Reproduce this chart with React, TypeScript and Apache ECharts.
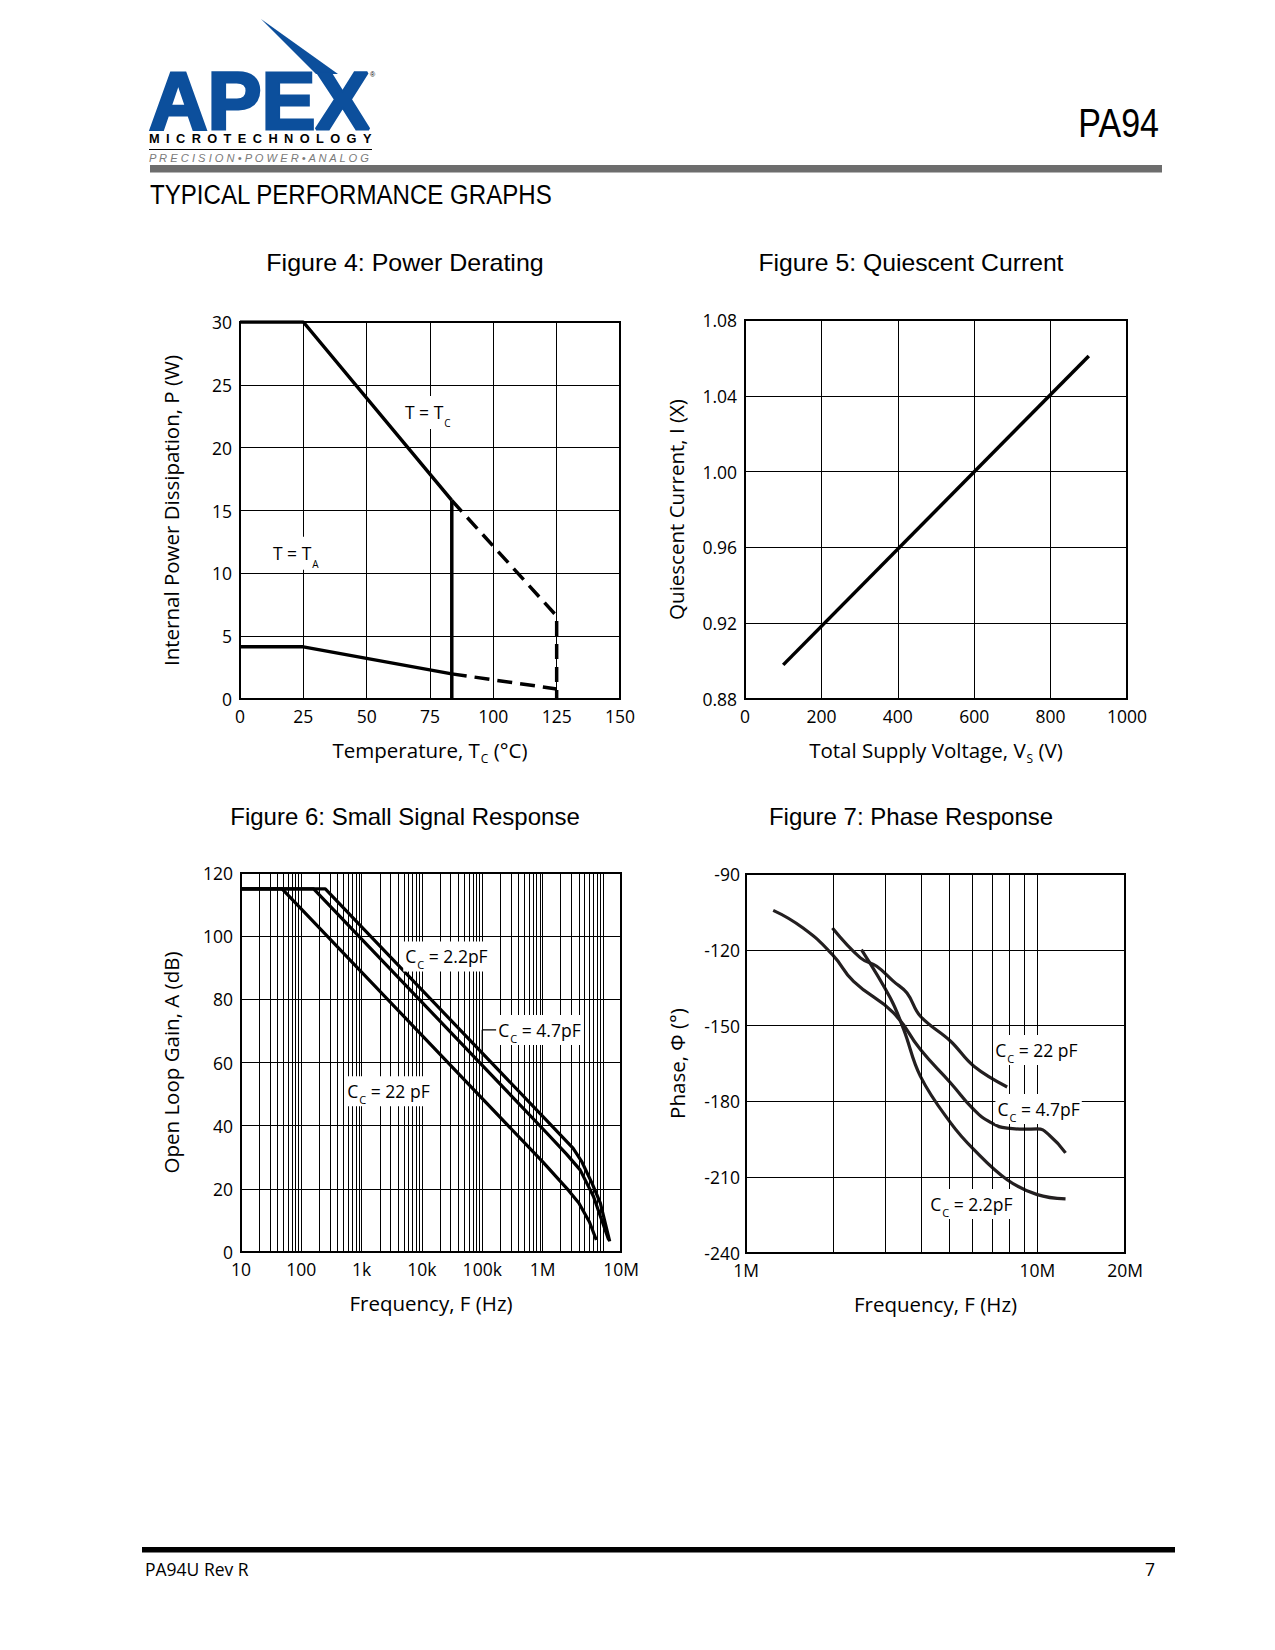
import React, { useEffect, useRef } from "react";
import * as echarts from "echarts";

const FONT = '"Open Sans", "Noto Sans", sans-serif';
const HEAD_FONT = '"Liberation Sans", Arial, sans-serif';
const INK = "#000000";
const CURVE7 = "#231f20";
const BLUE = "#0c4f9c";

// ---------- Figure 4: Power Derating ----------
const tcSolidX = [0, 25, 83.6];
const tcSolidY = [30, 30, 15.8];
const tcDashX = [83.6, 125, 125];
const tcDashY = [15.8, 6.6, 0];
const limitX = [83.6, 83.6];
const limitY = [0, 15.8];
const taSolidX = [0, 25, 83.6];
const taSolidY = [4.15, 4.15, 2.0];
const taDashX = [83.6, 125];
const taDashY = [2.0, 0.8];
const powerLabelX = [64.3, 12.2];
const powerLabelY = [22.8, 11.6];
const powerLabelText = ["T = T{s|C}", "T = T{s|A}"];

// ---------- Figure 5: Quiescent Current ----------
const supplyV = [100, 900];
const quiescentI = [0.898, 1.061];

// ---------- Figure 6: Small Signal Response ----------
const gainF22 = [10, 48, 1e6, 2.7e6, 4e6, 6e6, 7.8e6];
const gainA22 = [115, 115, 28.6, 19.5, 15.5, 9.5, 3.8];
const gainF47 = [10, 160, 1e6, 2.5e6, 4.2e6, 7e6, 9.1e6, 1.25e7];
const gainA47 = [115, 115, 39.1, 31, 26, 17.6, 11.3, 3.8];
const gainF2p2 = [10, 250, 1e6, 3.2e6, 4.5e6, 6.6e6, 9.1e6, 1.3e7];
const gainA2p2 = [115, 115, 43, 32.9, 28.5, 21.8, 15.5, 3.4];
const leaderF = [1e5, 1e5, 1.72e5];
const leaderA = [59.5, 70.3, 70.3];
const gainLabelF = [4.9e3, 1.71e5, 537];
const gainLabelA = [93.6, 70.3, 50.9];
const gainLabelText = ["C{s|C} = 2.2pF", "C{s|C} = 4.7pF", "C{s|C} = 22 pF"];
const gainTickExp = [1, 2, 3, 4, 5, 6, 7, 7.3];
const gainTickText = ["10", "100", "1k", "10k", "100k", "1M", "", "10M"];
const gainDecades = [1, 2, 3, 4, 5, 6];
const minorMultipliers = [2, 3, 4, 5, 6, 7, 8, 9];

// ---------- Figure 7: Phase Response ----------
const phaseF47 = [1.24e6, 1.57e6, 1.98e6, 2.34e6, 3.21e6, 3.97e6, 5.04e6, 6.06e6, 6.91e6, 7.88e6, 9.0e6, 1.0e7, 1.1e7, 1.25e7];
const phaseP47 = [-104.4, -111.4, -121.9, -132.5, -145.0, -159.5, -172.7, -183.3, -188.3, -190.6, -191.0, -190.9, -193.4, -200.4];
const phaseF22 = [1.98e6, 2.47e6, 2.81e6, 3.21e6, 3.57e6, 3.97e6, 5.04e6, 6.06e6, 7.88e6];
const phaseP22 = [-111.4, -123.2, -126.5, -132.5, -137.1, -146.3, -156.2, -166.1, -174.3];
const phaseF2p2 = [2.49e6, 3.13e6, 3.48e6, 3.97e6, 5.04e6, 6.06e6, 7.88e6, 1.0e7, 1.25e7];
const phaseP2p2 = [-119.9, -139.1, -151.6, -170.1, -188.5, -199.1, -211.0, -216.9, -218.6];
const phaseLabelF = [7.06e6, 7.18e6, 4.22e6];
const phaseLabelP = [-159.7, -183.0, -220.6];
const phaseLabelText = ["C{s|C} = 22 pF", "C{s|C} = 4.7pF", "C{s|C} = 2.2pF"];
const phaseTickExp = [6, 7, 7.3];
const phaseTickText = ["1M", "10M", "20M"];
const phaseDecades = [6];

// ---------- Page texts ----------
const figureTitles = [
  "Figure 4: Power Derating",
  "Figure 5: Quiescent Current",
  "Figure 6: Small Signal Response",
  "Figure 7: Phase Response",
];
const axisNames = {
  x4: "Temperature, T{s|C} (°C)",
  y4: "Internal Power Dissipation, P (W)",
  x5: "Total Supply Voltage, V{s|S} (V)",
  y5: "Quiescent Current, I (X)",
  x6: "Frequency, F (Hz)",
  y6: "Open Loop Gain, A (dB)",
  x7: "Frequency, F (Hz)",
  y7: "Phase, Φ (°)",
};

const zip = (xs: number[], ys: number[]) => xs.map((x, i) => [x, ys[i]]);

function buildOption() {
  const sub = (size: number, drop: number) => ({
    fontSize: size,
    fontFamily: FONT,
    color: INK,
    padding: [drop, 0, 0, 1],
  });
  const nameStyle = () => ({
    fontSize: 20.5,
    fontFamily: FONT,
    color: INK,
    rich: { s: sub(12, 16) },
  });
  const tick = (margin: number, formatter?: any) => ({
    color: INK,
    fontFamily: FONT,
    fontSize: 17.5,
    margin,
    showMinLabel: true,
    showMaxLabel: true,
    ...(formatter ? { formatter } : {}),
  });
  const base = {
    axisLine: { show: false },
    axisTick: { show: false },
    splitLine: { show: true, lineStyle: { color: INK, width: 1 } },
    nameLocation: "middle",
  };
  const logFmt = (exps: number[], texts: string[]) => (v: number) => {
    const k = Math.round(Math.log10(v) * 100) / 100;
    const i = exps.indexOf(k);
    return i >= 0 ? texts[i] : "";
  };

  const grids = [
    { left: 240, top: 322, width: 380, height: 377 },
    { left: 745, top: 320, width: 382, height: 379 },
    { left: 241, top: 873, width: 380, height: 379 },
    { left: 746, top: 874, width: 379, height: 379 },
  ].map((g) => ({ ...g, show: true, borderColor: INK, borderWidth: 2, backgroundColor: "transparent" }));

  const xAxis = [
    { ...base, gridIndex: 0, type: "value", min: 0, max: 150, interval: 25, axisLabel: tick(8), name: axisNames.x4, nameGap: 37, nameTextStyle: nameStyle() },
    { ...base, gridIndex: 1, type: "value", min: 0, max: 1000, interval: 200, axisLabel: tick(8, (v: number) => String(v)), name: axisNames.x5, nameGap: 37, nameTextStyle: nameStyle() },
    { ...base, gridIndex: 2, type: "log", logBase: 10, min: 10, max: 2e7, axisLabel: tick(8, logFmt(gainTickExp, gainTickText)), name: axisNames.x6, nameGap: 40, nameTextStyle: nameStyle() },
    { ...base, gridIndex: 3, type: "log", logBase: 10, min: 1e6, max: 2e7, axisLabel: tick(8, logFmt(phaseTickExp, phaseTickText)), name: axisNames.x7, nameGap: 40, nameTextStyle: nameStyle() },
  ];
  const yAxis = [
    { ...base, gridIndex: 0, type: "value", min: 0, max: 30, interval: 5, axisLabel: tick(8), name: axisNames.y4, nameGap: 59, nameTextStyle: nameStyle() },
    { ...base, gridIndex: 1, type: "value", min: 0.88, max: 1.08, interval: 0.04, axisLabel: tick(8, (v: number) => v.toFixed(2)), name: axisNames.y5, nameGap: 59, nameTextStyle: nameStyle() },
    { ...base, gridIndex: 2, type: "value", min: 0, max: 120, interval: 20, axisLabel: tick(8), name: axisNames.y6, nameGap: 60, nameTextStyle: nameStyle() },
    { ...base, gridIndex: 3, type: "value", min: -240, max: -90, interval: 30, axisLabel: tick(6), name: axisNames.y7, nameGap: 59, nameTextStyle: nameStyle() },
  ];

  const line = (idx: number, data: number[][], opts: any = {}) => ({
    type: "line",
    xAxisIndex: idx,
    yAxisIndex: idx,
    data,
    symbol: "none",
    showSymbol: false,
    silent: true,
    z: 4,
    smooth: opts.smooth || false,
    lineStyle: {
      color: opts.color || INK,
      width: opts.width || 3.5,
      type: opts.type || "solid",
      cap: "butt",
    },
    ...(opts.markLine ? { markLine: opts.markLine } : {}),
  });

  const minorGrid = (decades: number[]) => ({
    silent: true,
    symbol: ["none", "none"],
    label: { show: false },
    lineStyle: { color: INK, width: 1, type: "solid" },
    emphasis: { disabled: true },
    data: decades.flatMap((d) => minorMultipliers.map((m) => ({ xAxis: m * Math.pow(10, d) }))),
  });

  const labels = (idx: number, xs: number[], ys: number[], texts: string[], subSize: number, drop: number) => ({
    type: "scatter",
    xAxisIndex: idx,
    yAxisIndex: idx,
    symbolSize: 0,
    silent: true,
    z: 10,
    itemStyle: { opacity: 1 },
    data: xs.map((x, i) => ({ value: [x, ys[i]], label: { formatter: texts[i] } })),
    label: {
      show: true,
      position: "right",
      distance: 0,
      color: INK,
      opacity: 1,
      fontFamily: FONT,
      fontSize: 17.5,
      backgroundColor: "#ffffff",
      padding: [1, 2, 1, 2],
      rich: { s: sub(subSize, drop) },
    },
  });

  const dash = [15, 8];
  const series = [
    line(0, zip(tcSolidX, tcSolidY)),
    line(0, zip(tcDashX, tcDashY), { type: dash }),
    line(0, zip(limitX, limitY)),
    line(0, zip(taSolidX, taSolidY)),
    line(0, zip(taDashX, taDashY), { type: dash }),
    labels(0, powerLabelX, powerLabelY, powerLabelText, 10, 21),

    line(1, zip(supplyV, quiescentI)),

    line(2, zip(gainF22, gainA22), { width: 3.2, markLine: minorGrid(gainDecades) }),
    line(2, zip(gainF47, gainA47), { width: 3.2 }),
    line(2, zip(gainF2p2, gainA2p2), { width: 3.2 }),
    line(2, zip(leaderF, leaderA), { width: 1.2 }),
    labels(2, gainLabelF, gainLabelA, gainLabelText, 11, 17),

    line(3, zip(phaseF47, phaseP47), { width: 3.2, color: CURVE7, smooth: 0.5, markLine: minorGrid(phaseDecades) }),
    line(3, zip(phaseF22, phaseP22), { width: 3.2, color: CURVE7, smooth: 0.4 }),
    line(3, zip(phaseF2p2, phaseP2p2), { width: 3.2, color: CURVE7, smooth: 0.4 }),
    labels(3, phaseLabelF, phaseLabelP, phaseLabelText, 11, 17),
  ];

  const txt = (text: string, x: number, y: number, o: any = {}) => ({
    type: "text",
    x,
    y,
    scaleX: o.scaleX || 1,
    silent: true,
    z: 20,
    style: {
      text,
      fill: o.fill || INK,
      fontSize: o.fontSize || 16,
      fontFamily: o.fontFamily || FONT,
      fontWeight: o.fontWeight || "normal",
      fontStyle: o.fontStyle || "normal",
      align: o.align || "left",
      verticalAlign: "middle",
      textAlign: o.align || "left",
      textVerticalAlign: "middle",
      stroke: o.stroke,
      lineWidth: o.lineWidth || 0,
    },
  });

  const micro = "MICROTECHNOLOGY".split("").join("\u2002");
  const precision = "PRECISION•POWER•ANALOG".split("").join(" ");
  const titleCenters = [[405, 262.5], [911, 262.5], [405, 816.5], [911, 816.5]];
  const titleScale = [1.04, 1.03, 1, 1];

  const graphic = [
    { type: "polygon", silent: true, shape: { points: [[261, 19], [316, 74], [338, 74]] }, style: { fill: BLUE } },
    txt("APEX", 149, 101, { fontSize: 81, fontWeight: "bold", fontFamily: HEAD_FONT, fill: BLUE, stroke: BLUE, lineWidth: 3 }),
    txt("®", 370, 74, { fontSize: 7, fontFamily: HEAD_FONT }),
    txt(micro, 149, 138.5, { fontSize: 13, fontWeight: "bold", fontFamily: HEAD_FONT, scaleX: 0.985 }),
    { type: "line", silent: true, shape: { x1: 149, y1: 149.5, x2: 372, y2: 149.5 }, style: { stroke: INK, lineWidth: 1 } },
    txt(precision, 149, 157.5, { fontSize: 11.5, fontStyle: "italic", fontFamily: HEAD_FONT, fill: "#7a7a7a", scaleX: 0.97 }),
    { type: "rect", silent: true, shape: { x: 150, y: 165, width: 1012, height: 7.5 }, style: { fill: "#6d6d6d" } },
    txt("PA94", 1159, 122.5, { fontSize: 40, fontFamily: HEAD_FONT, align: "right", scaleX: 0.85 }),
    txt("TYPICAL PERFORMANCE GRAPHS", 150, 194, { fontSize: 28, fontFamily: HEAD_FONT, scaleX: 0.86 }),
    ...figureTitles.map((t, i) => txt(t, titleCenters[i][0], titleCenters[i][1], { fontSize: 24, fontFamily: HEAD_FONT, align: "center", scaleX: titleScale[i] })),
    { type: "rect", silent: true, shape: { x: 142, y: 1547, width: 1033, height: 5.5 }, style: { fill: INK } },
    txt("PA94U Rev R", 145, 1569, { fontSize: 17.5 }),
    txt("7", 1155, 1569, { fontSize: 17.5, align: "right" }),
  ];

  return {
    animation: false,
    backgroundColor: "#ffffff",
    textStyle: { fontFamily: FONT },
    grid: grids,
    xAxis,
    yAxis,
    series,
    graphic,
  };
}

export default function App() {
  const ref = useRef<HTMLDivElement>(null);
  useEffect(() => {
    if (!ref.current) return;
    const chart = echarts.init(ref.current, null, { renderer: "svg" });
    chart.setOption(buildOption() as any);
    return () => chart.dispose();
  }, []);
  return (
    <div
      ref={ref}
      style={{ position: "absolute", left: 0, top: 0, width: 1275, height: 1650, background: "#ffffff" }}
    />
  );
}
